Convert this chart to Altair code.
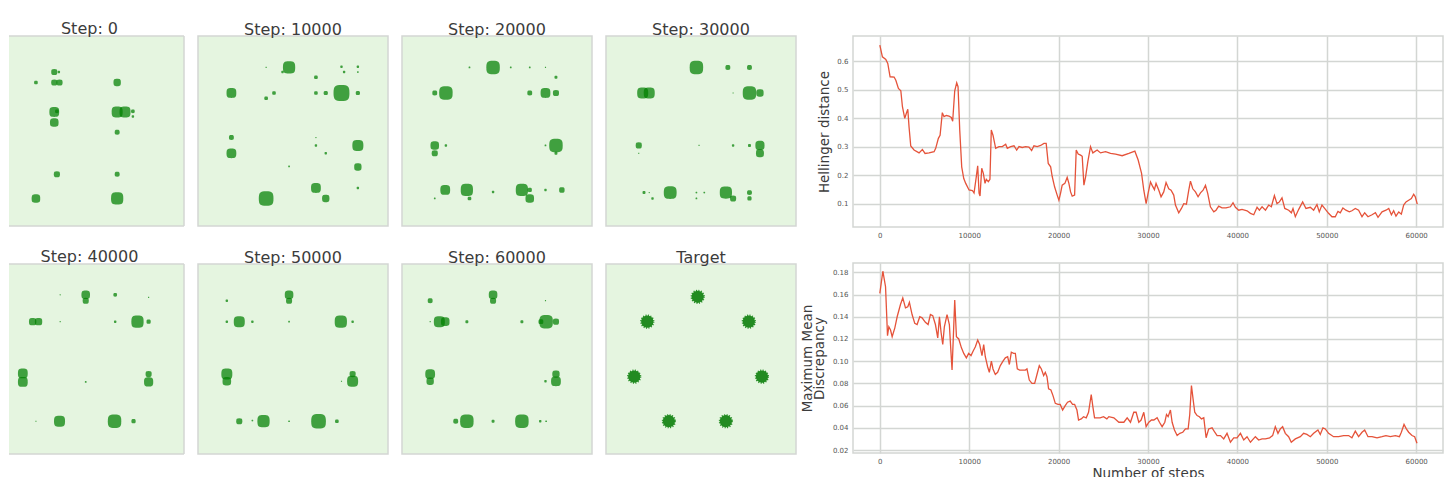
import altair as alt
import pandas as pd

FONT = "DejaVu Sans"
GREEN_BG = "#e5f5e0"
FRAME = "#d3d6d3"
LINE_COLOR = "#e5533a"

# ---------------- scatter panels (sample locations and relative counts) ----------------
titles = ["Step: 0", "Step: 10000", "Step: 20000", "Step: 30000",
          "Step: 40000", "Step: 50000", "Step: 60000", "Target"]

s0_x = [-0.53, -0.46, -0.81, -0.53, -0.45, 0.43, -0.53, -0.49, -0.53, 0.43, 0.55, 0.67, 0.67, 0.43, -0.49, 0.43, -0.81, 0.43]
s0_y = [0.90, 0.90, 0.74, 0.74, 0.74, 0.74, 0.29, 0.30, 0.13, 0.29, 0.29, 0.30, 0.22, -0.02, -0.66, -0.66, -1.03, -1.03]
s0_n = [25, 4, 9, 25, 25, 36, 64, 9, 49, 81, 81, 9, 4, 16, 25, 16, 49, 100]

s1_x = [-0.06, -0.16, -0.41, 0.74, 0.99, 0.78, 0.99, 0.35, -0.94, -0.29, -0.41, 0.35, 0.50, 0.74, 0.99, -0.94, -0.94, 0.35, 0.35, 0.50, 0.99, 0.99, -0.06, 0.35, 0.99, -0.41, 0.50]
s1_y = [0.97, 0.90, 0.97, 0.98, 0.98, 0.90, 0.90, 0.82, 0.58, 0.58, 0.50, 0.58, 0.58, 0.58, 0.58, -0.10, -0.34, -0.10, -0.22, -0.34, -0.22, -0.55, -0.54, -0.87, -0.87, -1.03, -1.03]
s1_n = [100, 4, 1, 4, 4, 4, 2, 9, 64, 9, 9, 9, 12, 169, 12, 16, 64, 1, 4, 4, 81, 36, 2, 64, 4, 144, 36]

s2_x = [-0.06, -0.42, 0.21, 0.50, 0.74, 0.90, -0.95, -0.78, 0.50, 0.74, 0.90, -0.95, -0.78, -0.95, 0.74, 0.90, 0.90, -0.79, -0.46, -0.06, 0.38, 0.50, 0.50, 0.74, 0.99, -0.95, -0.42]
s2_y = [0.97, 0.97, 0.97, 0.97, 0.97, 0.82, 0.58, 0.58, 0.58, 0.58, 0.58, -0.22, -0.22, -0.34, -0.22, -0.22, -0.34, -0.90, -0.90, -0.93, -0.90, -0.90, -1.03, -0.90, -0.90, -1.03, -1.03]
s2_n = [121, 2, 2, 2, 1, 6, 16, 121, 16, 64, 25, 49, 4, 25, 2, 121, 6, 64, 100, 4, 100, 12, 49, 4, 20, 2, 9]

s3_x = [-0.07, 0.41, 0.74, -0.89, -0.79, 0.49, 0.74, 0.90, -0.95, -0.95, -0.03, 0.49, 0.74, 0.90, 0.90, -0.87, -0.79, -0.74, -0.47, -0.07, 0.05, -0.07, 0.38, 0.49, 0.74, 0.74]
s3_y = [0.97, 0.97, 0.97, 0.58, 0.58, 0.58, 0.58, 0.58, -0.22, -0.34, -0.22, -0.22, -0.22, -0.22, -0.34, -0.94, -0.94, -1.03, -0.94, -0.94, -0.94, -1.03, -0.94, -1.03, -0.94, -1.03]
s3_n = [121, 16, 16, 81, 81, 1, 121, 36, 25, 1, 1, 4, 6, 56, 42, 6, 1, 4, 110, 2, 2, 2, 100, 25, 16, 12]

s4_x = [-0.05, -0.05, -0.44, 0.40, 0.91, -0.86, -0.77, -0.44, 0.40, 0.74, 0.91, -1.01, -1.01, -0.05, 0.91, 0.91, -0.81, -0.45, 0.39, 0.68]
s4_y = [0.98, 0.89, 0.98, 0.98, 0.94, 0.57, 0.57, 0.57, 0.57, 0.57, 0.57, -0.22, -0.35, -0.35, -0.23, -0.35, -0.95, -0.95, -0.95, -0.95]
s4_n = [49, 25, 1, 9, 1, 36, 36, 1, 4, 100, 12, 64, 64, 2, 25, 56, 1, 81, 121, 12]

s5_x = [-0.06, -0.06, -1.01, -1.01, -0.82, -0.62, -0.06, 0.73, 0.91, -1.01, -1.01, 0.91, 0.91, 0.74, -0.82, -0.62, -0.45, -0.06, 0.39, 0.67]
s5_y = [0.98, 0.89, 0.89, 0.57, 0.57, 0.57, 0.57, 0.57, 0.57, -0.23, -0.34, -0.23, -0.34, -0.34, -0.95, -0.94, -0.95, -0.95, -0.95, -0.95]
s5_n = [49, 25, 4, 4, 81, 4, 2, 100, 4, 81, 49, 25, 81, 1, 25, 2, 100, 2, 144, 9]

s6_x = [-0.06, -0.06, -1.02, 0.74, -1.02, -0.88, -0.79, -0.46, 0.38, 0.67, 0.75, 0.90, -1.02, -1.02, 0.90, 0.90, 0.74, -0.63, -0.46, -0.06, 0.38, 0.66, 0.75]
s6_y = [0.98, 0.89, 0.89, 0.89, 0.57, 0.57, 0.57, 0.57, 0.57, 0.57, 0.57, 0.57, -0.23, -0.34, -0.23, -0.34, -0.34, -0.95, -0.95, -0.95, -0.95, -0.95, -0.95]
s6_n = [49, 25, 16, 1, 1, 81, 49, 6, 6, 16, 121, 25, 64, 36, 36, 64, 4, 16, 121, 6, 121, 4, 2]

target_x = [-0.05, -0.82, 0.73, -1.02, 0.93, -0.49, 0.38]
target_y = [0.95, 0.57, 0.57, -0.27, -0.27, -0.95, -0.95]
target_n = [100, 100, 100, 100, 100, 100, 100]

panels = [(s0_x, s0_y, s0_n), (s1_x, s1_y, s1_n), (s2_x, s2_y, s2_n), (s3_x, s3_y, s3_n),
          (s4_x, s4_y, s4_n), (s5_x, s5_y, s5_n), (s6_x, s6_y, s6_n), (target_x, target_y, target_n)]

# ---------------- training curves ----------------
hell_steps = [0, 290, 670, 890, 1150, 1600, 1790, 2080, 2350, 2530, 2790, 2970, 3130, 3270, 3460, 3830, 4390, 4760, 5060, 5510,
              6070, 6250, 6550, 6740, 6990, 7180, 7440, 7740, 8000, 8150, 8380, 8600, 8750, 8940, 9160, 9390, 9610, 9980, 10350, 10540,
              10790, 10950, 11100, 11210, 11400, 11580, 11770, 11910, 12140, 12320, 12470, 12660, 12960, 13330, 13700, 14080, 14260, 14640, 15010, 15310,
              15570, 15930, 16310, 16680, 16980, 17240, 17610, 17990, 18360, 18610, 18840, 19110, 19280, 19550, 19840, 20030, 20220, 20400, 20700, 20960,
              21150, 21340, 21520, 21790, 21970, 22190, 22460, 22640, 22830, 23020, 23270, 23570, 23830, 24310, 24690, 25250, 25810, 26370, 27110, 27860,
              28530, 28900, 29280, 29530, 29790, 30010, 30280, 30460, 30720, 30900, 31210, 31460, 31760, 32020, 32320, 32580, 32880, 33070, 33440, 33740,
              34000, 34300, 34560, 34750, 35010, 35310, 35600, 35870, 36160, 36430, 36680, 36980, 37360, 37610, 37910, 38280, 38730, 39220, 39510, 39780,
              40150, 40520, 41080, 41460, 41830, 42200, 42460, 42760, 43140, 43500, 43800, 44140, 44430, 44700, 44990, 45300, 45740, 46040, 46220, 46480,
              46860, 47300, 47670, 48160, 48530, 48900, 49160, 49460, 49760, 50200, 50580, 50950, 51250, 51510, 51800, 52140, 52520, 52810, 53190, 53560,
              53940, 54240, 54610, 55060, 55440, 55730, 56180, 56620, 56930, 57230, 57480, 57740, 58050, 58340, 58600, 58860, 59160, 59460, 59720, 59900, 60120]
hell_vals = [0.656, 0.615, 0.606, 0.592, 0.545, 0.544, 0.533, 0.504, 0.496, 0.44, 0.399, 0.417, 0.431, 0.369, 0.302, 0.288, 0.278, 0.29, 0.276, 0.278,
             0.282, 0.294, 0.329, 0.34, 0.419, 0.405, 0.409, 0.407, 0.402, 0.389, 0.496, 0.524, 0.51, 0.358, 0.229, 0.188, 0.171, 0.148, 0.146, 0.137,
             0.194, 0.233, 0.137, 0.127, 0.224, 0.206, 0.171, 0.185, 0.177, 0.185, 0.358, 0.34, 0.294, 0.30, 0.30, 0.308, 0.294, 0.30, 0.303, 0.288,
             0.30, 0.297, 0.30, 0.298, 0.286, 0.303, 0.30, 0.304, 0.311, 0.311, 0.241, 0.229, 0.196, 0.159, 0.13, 0.112, 0.137, 0.165, 0.171, 0.192,
             0.171, 0.141, 0.126, 0.13, 0.288, 0.274, 0.27, 0.266, 0.165, 0.194, 0.247, 0.30, 0.278, 0.288, 0.278, 0.282, 0.276, 0.274, 0.268, 0.276,
             0.284, 0.253, 0.206, 0.147, 0.10, 0.136, 0.176, 0.164, 0.149, 0.171, 0.147, 0.124, 0.141, 0.174, 0.152, 0.147, 0.13, 0.095, 0.068, 0.083,
             0.10, 0.098, 0.147, 0.179, 0.152, 0.141, 0.124, 0.138, 0.147, 0.164, 0.136, 0.089, 0.071, 0.077, 0.091, 0.085, 0.085, 0.089, 0.103, 0.087,
             0.077, 0.08, 0.075, 0.066, 0.061, 0.087, 0.077, 0.089, 0.077, 0.095, 0.089, 0.128, 0.10, 0.106, 0.12, 0.083, 0.077, 0.068, 0.083, 0.054,
             0.08, 0.106, 0.083, 0.087, 0.077, 0.097, 0.071, 0.095, 0.083, 0.066, 0.054, 0.054, 0.073, 0.068, 0.085, 0.077, 0.071, 0.075, 0.083, 0.077,
             0.054, 0.068, 0.054, 0.061, 0.068, 0.052, 0.071, 0.077, 0.083, 0.061, 0.075, 0.056, 0.071, 0.063, 0.095, 0.106, 0.112, 0.118, 0.133, 0.124, 0.098]

mmd_steps = [0, 340, 640, 860, 1010, 1200, 1380, 1680, 1940, 2310, 2570, 2870, 3130, 3310, 3610, 3910, 4170, 4470, 4730, 5100,
             5400, 5660, 5920, 6220, 6480, 6670, 6850, 7040, 7220, 7520, 7780, 7930, 8080, 8230, 8380, 8570, 8830, 9130, 9390, 9680,
             9940, 10200, 10430, 10690, 10950, 11170, 11430, 11620, 11800, 12060, 12250, 12480, 12660, 12920, 13180, 13480, 13780, 14040, 14300, 14490,
             14710, 14970, 15160, 15380, 15640, 15900, 16280, 16460, 16720, 17020, 17320, 17580, 17840, 18070, 18330, 18510, 18700, 18880, 19140, 19370,
             19630, 19930, 20180, 20450, 20740, 21000, 21300, 21560, 21790, 22050, 22230, 22530, 22790, 23090, 23350, 23650, 23830, 24020, 24280, 24650,
             25020, 25400, 25620, 26180, 26740, 27300, 27670, 28040, 28410, 28670, 28970, 29230, 29530, 29790, 30090, 30390, 30650, 31020, 31280, 31580,
             31880, 32070, 32250, 32510, 32700, 32960, 33260, 33560, 33890, 34190, 34490, 34670, 34860, 35040, 35230, 35490, 35750, 35980, 36240, 36500,
             36790, 37170, 37470, 37730, 38110, 38470, 38840, 39220, 39590, 39960, 40340, 40710, 41080, 41460, 42010, 42380, 42760, 43130, 43610, 43940,
             44240, 44540, 44800, 45060, 45360, 45730, 46030, 46480, 47040, 47410, 47780, 48160, 48530, 49010, 49270, 49570, 49830, 50200, 50760, 51320,
             51880, 52440, 52810, 53190, 53560, 53940, 54240, 54610, 55060, 55620, 56180, 56620, 57110, 57670, 58120, 58340, 58640, 58900, 59160, 59530, 59830, 60090]
mmd_vals = [0.161, 0.181, 0.167, 0.123, 0.131, 0.128, 0.122, 0.13, 0.14, 0.151, 0.157, 0.148, 0.149, 0.153, 0.142, 0.134, 0.133, 0.14, 0.139, 0.135,
            0.133, 0.142, 0.141, 0.133, 0.121, 0.14, 0.126, 0.115, 0.131, 0.142, 0.133, 0.112, 0.092, 0.123, 0.155, 0.122, 0.12, 0.112, 0.107, 0.103,
            0.107, 0.105, 0.109, 0.113, 0.119, 0.115, 0.105, 0.115, 0.104, 0.095, 0.09, 0.10, 0.093, 0.088, 0.09, 0.096, 0.10, 0.103, 0.104, 0.097,
            0.108, 0.107, 0.107, 0.093, 0.092, 0.092, 0.092, 0.093, 0.083, 0.08, 0.08, 0.088, 0.096, 0.093, 0.087, 0.09, 0.086, 0.075, 0.074, 0.069,
            0.062, 0.061, 0.061, 0.056, 0.06, 0.063, 0.064, 0.061, 0.061, 0.056, 0.047, 0.048, 0.05, 0.049, 0.054, 0.07, 0.059, 0.049, 0.049, 0.049,
            0.05, 0.048, 0.05, 0.049, 0.045, 0.045, 0.049, 0.045, 0.054, 0.054, 0.045, 0.047, 0.054, 0.041, 0.045, 0.047, 0.047, 0.049, 0.045, 0.041,
            0.045, 0.052, 0.05, 0.056, 0.045, 0.038, 0.033, 0.035, 0.036, 0.039, 0.039, 0.052, 0.078, 0.066, 0.054, 0.051, 0.05, 0.048, 0.049, 0.031,
            0.039, 0.04, 0.036, 0.033, 0.033, 0.03, 0.035, 0.027, 0.031, 0.031, 0.035, 0.029, 0.032, 0.027, 0.032, 0.029, 0.03, 0.03, 0.031, 0.033,
            0.041, 0.035, 0.039, 0.041, 0.035, 0.032, 0.027, 0.03, 0.032, 0.035, 0.034, 0.032, 0.035, 0.038, 0.034, 0.04, 0.039, 0.035, 0.032, 0.032,
            0.033, 0.033, 0.031, 0.037, 0.032, 0.036, 0.038, 0.032, 0.032, 0.031, 0.032, 0.033, 0.032, 0.033, 0.032, 0.036, 0.043, 0.039, 0.036, 0.033, 0.032, 0.026]

step_ticks = [0, 10000, 20000, 30000, 40000, 50000, 60000]
hell_ticks = [0.1, 0.2, 0.3, 0.4, 0.5, 0.6]
mmd_ticks = [0.02, 0.04, 0.06, 0.08, 0.10, 0.12, 0.14, 0.16, 0.18]

# ---------------- styling helpers ----------------
SQUIRCLE = ("M-1,0 C-1,-0.82 -0.82,-1 0,-1 C0.82,-1 1,-0.82 1,0 "
            "C1,0.82 0.82,1 0,1 C-0.82,1 -1,0.82 -1,0 Z")
DOM = 1.45
PW, PH = 190, 190
FW = 1.5
T_OFF = -2


def scatter_panel(idx, width=PW, xmin=-DOM, title_dx=0):
    xs, ys, ns = panels[idx]
    df = pd.DataFrame({"x": xs, "y": ys, "n": ns})
    is_target = titles[idx] == "Target"
    if is_target:
        mark = dict(filled=True, shape="circle", color="#0d800d",
                    opacity=0.9, stroke="#0d800d", strokeWidth=2.0, strokeDash=[1, 1.4])
    else:
        mark = dict(filled=True, shape=SQUIRCLE, color="#008000",
                    opacity=0.72, strokeWidth=0)
    pts = alt.Chart(df).mark_point(**mark).encode(
        x=alt.X("x:Q", scale=alt.Scale(domain=[xmin, DOM], nice=False, zero=False), axis=None),
        y=alt.Y("y:Q", scale=alt.Scale(domain=[-DOM, DOM], nice=False, zero=False), axis=None),
        size=alt.Size("n:Q", scale=alt.Scale(type="linear", domain=[0, 100], range=[0, 150], zero=True),
                      legend=None),
    )
    ttl = alt.TitleParams(titles[idx], fontSize=16, font=FONT, color="#3c3c3c", fontWeight="normal",
                          offset=T_OFF, dx=title_dx)
    if idx in (0, 4):
        # first column is cut at the left edge of the figure: no left frame line
        frame_df = pd.DataFrame({"k": [0]})
        top = alt.Chart(frame_df).mark_rule(color=FRAME, strokeWidth=FW).encode(
            x=alt.value(0), x2=alt.value(width), y=alt.value(0))
        bot = alt.Chart(frame_df).mark_rule(color=FRAME, strokeWidth=FW).encode(
            x=alt.value(0), x2=alt.value(width), y=alt.value(PH))
        right = alt.Chart(frame_df).mark_rule(color=FRAME, strokeWidth=FW).encode(
            x=alt.value(width), y=alt.value(0), y2=alt.value(PH))
        return alt.layer(pts, top, bot, right).properties(
            width=width, height=PH, title=ttl,
            view=alt.ViewBackground(fill=GREEN_BG, stroke="transparent", strokeWidth=0))
    return pts.properties(width=width, height=PH, title=ttl,
                          view=alt.ViewBackground(fill=GREEN_BG, stroke=FRAME, strokeWidth=FW))


first_w = 175
first_xmin = -DOM + (PW - first_w) / (PW / (2 * DOM))

row1 = alt.hconcat(scatter_panel(0, first_w, first_xmin, -7), scatter_panel(1), scatter_panel(2), scatter_panel(3),
                   spacing=12)
row2 = alt.hconcat(scatter_panel(4, first_w, first_xmin, -7), scatter_panel(5), scatter_panel(6), scatter_panel(7),
                   spacing=12)
left_block = alt.vconcat(row1, row2, spacing=22)

LW = 590
xscale = alt.Scale(domain=[-3000, 63000], nice=False, zero=False)

hd = pd.DataFrame({"step": hell_steps, "val": hell_vals})
line1 = alt.Chart(hd).mark_line(color=LINE_COLOR, strokeWidth=1.3).encode(
    x=alt.X("step:Q", scale=xscale,
            axis=alt.Axis(values=step_ticks, format="d", title=None, labelPadding=4)),
    y=alt.Y("val:Q", scale=alt.Scale(domain=[0.018, 0.688], nice=False, zero=False),
            axis=alt.Axis(values=hell_ticks, format=".1f", title="Hellinger distance",
                          labelPadding=5, titlePadding=5)),
).properties(width=LW, height=191,
             title=alt.TitleParams(".", fontSize=16, font=FONT, color="#ffffff", offset=T_OFF),
             view=alt.ViewBackground(fill="#ffffff", stroke=FRAME, strokeWidth=FW))

md = pd.DataFrame({"step": mmd_steps, "val": mmd_vals})
line2 = alt.Chart(md).mark_line(color=LINE_COLOR, strokeWidth=1.3).encode(
    x=alt.X("step:Q", scale=xscale,
            axis=alt.Axis(values=step_ticks, format="d", title="Number of steps", labelPadding=4,
                          titlePadding=2)),
    y=alt.Y("val:Q", scale=alt.Scale(domain=[0.0173, 0.1884], nice=False, zero=False),
            axis=alt.Axis(values=mmd_ticks, format=".2f", title=["Maximum Mean", "Discrepancy"],
                          labelPadding=5, titlePadding=6, titleLineHeight=12)),
).properties(width=LW, height=190,
             view=alt.ViewBackground(fill="#ffffff", stroke=FRAME, strokeWidth=FW))

right_block = alt.vconcat(line1, line2, spacing=23)

chart = alt.hconcat(left_block, right_block, spacing=2).properties(
    padding={"left": 0, "top": 13, "right": 0, "bottom": 0}
).configure_axis(
    ticks=False, domain=False, grid=True, gridColor=FRAME, gridWidth=1.5,
    labelFont=FONT, labelFontSize=7, labelColor="#555555",
    titleFont=FONT, titleFontSize=13.5, titleFontWeight="normal", titleColor="#3c3c3c",
).configure_title(font=FONT).configure_view(strokeWidth=0)

chart.save("out.html", embed_options={"renderer": "svg", "actions": False})
